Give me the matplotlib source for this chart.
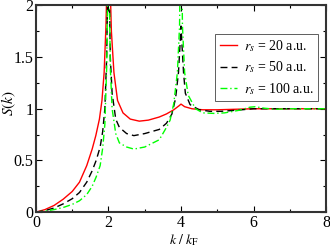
import numpy as np
import matplotlib
matplotlib.use("Agg")
import matplotlib.pyplot as plt
from matplotlib.ticker import MultipleLocator, FixedLocator, FixedFormatter

plt.rcParams['font.family'] = ['Liberation Serif', 'DejaVu Serif']
plt.rcParams['mathtext.fontset'] = 'stix'

# rs = 20 a.u.
k_red = [0, 0.25, 0.5, 0.75, 1.0, 1.2, 1.4, 1.55, 1.65, 1.75, 1.82, 1.88, 1.93, 1.97, 2.0,
         2.03, 2.08, 2.15, 2.25, 2.4, 2.6, 2.85, 3.1, 3.4, 3.6, 3.8, 3.95, 4.0,
         4.1, 4.3, 4.6, 5.0, 5.5, 6.0, 8.0]
s_red = [0, 0.025, 0.065, 0.125, 0.2, 0.29, 0.45, 0.61, 0.74, 0.9, 1.08, 1.35, 1.8, 2.4, 3.0,
         2.4, 1.75, 1.35, 1.08, 0.96, 0.9, 0.88, 0.89, 0.92, 0.95, 0.99, 1.03, 1.045,
         1.02, 1.0, 0.99, 0.99, 0.995, 1.0, 1.0]

# rs = 50 a.u.
k_blk = [0, 0.25, 0.5, 0.75, 1.0, 1.2, 1.4, 1.55, 1.66, 1.77, 1.84, 1.9, 1.95, 1.98, 2.0,
         2.02, 2.05, 2.1, 2.2, 2.3, 2.5, 2.7, 3.0, 3.4, 3.6, 3.75, 3.85, 3.93, 3.97,
         4.0, 4.03, 4.07, 4.12, 4.25, 4.5, 4.8, 5.1, 5.5, 6.0, 6.5, 8.0]
s_blk = [0, 0.015, 0.04, 0.08, 0.13, 0.19, 0.29, 0.4, 0.5, 0.63, 0.78, 1.0, 1.5, 2.2, 3.0,
         2.2, 1.5, 1.15, 0.9, 0.82, 0.76, 0.74, 0.76, 0.8, 0.86, 0.95, 1.1, 1.35, 1.6,
         1.8, 1.6, 1.35, 1.15, 1.04, 0.99, 0.975, 0.975, 0.985, 1.0, 1.0, 1.0]

# rs = 100 a.u.
k_grn = [0, 0.25, 0.5, 0.75, 1.0, 1.2, 1.4, 1.55, 1.66, 1.77, 1.84, 1.9, 1.95, 1.98, 2.0,
         2.02, 2.05, 2.1, 2.2, 2.3, 2.5, 2.7, 3.0, 3.4, 3.6, 3.7, 3.8, 3.9, 3.96,
         4.0, 4.04, 4.1, 4.2, 4.4, 4.6, 4.9, 5.2, 5.6, 5.9, 6.05, 6.3, 6.6, 7.0, 8.0]
s_grn = [0, 0.01, 0.025, 0.045, 0.075, 0.11, 0.17, 0.25, 0.34, 0.45, 0.62, 0.85, 1.4, 2.2, 3.0,
         2.2, 1.4, 1.0, 0.76, 0.67, 0.63, 0.61, 0.63, 0.70, 0.82, 0.89, 1.05, 1.35, 1.8,
         3.0, 1.8, 1.35, 1.13, 1.0, 0.96, 0.955, 0.96, 0.985, 1.015, 1.02, 1.005, 0.995, 1.0, 1.0]

labels = [r'$r_s$ = 20 a.u.', r'$r_s$ = 50 a.u.', r'$r_s$ = 100 a.u.']
xticks = [0, 2, 4, 6, 8]
yticks = [0, 0.5, 1, 1.5, 2]
yticklabels = ['0', '0.5', '1', '1.5', '2']

fig = plt.figure(figsize=(3.3, 2.49), dpi=100)
ax = fig.add_axes([0.109, 0.148, 0.879, 0.8305])

ax.plot(k_red, s_red, color='red', lw=1.0, ls='-', label=labels[0])
ax.plot(k_blk, s_blk, color='black', lw=1.0, ls=(0, (5, 3)), label=labels[1])
ax.plot(k_grn, s_grn, color='#00ff00', lw=1.0, ls=(0, (5, 2, 1, 2)), label=labels[2])

ax.set_xlim(0, 8)
ax.set_ylim(0, 2)
ax.xaxis.set_major_locator(FixedLocator(xticks))
ax.xaxis.set_minor_locator(MultipleLocator(1))
ax.yaxis.set_major_locator(FixedLocator(yticks))
ax.yaxis.set_major_formatter(FixedFormatter(yticklabels))
ax.yaxis.set_minor_locator(MultipleLocator(0.25))
ax.tick_params(which='both', direction='in', top=True, right=True, labelsize=11.5)
ax.tick_params(axis='x', pad=2)
ax.tick_params(axis='y', pad=2)
ax.tick_params(which='major', length=4, width=0.8)
ax.tick_params(which='minor', length=2, width=0.8)
for sp in ax.spines.values():
    sp.set_linewidth(1.5)
    sp.set_color('#333333')

ax.set_xlabel(r'$k\ /\ k_{\mathrm{F}}$', fontsize=10)
ax.xaxis.set_label_coords(0.512, -0.095)
ax.set_ylabel(r'$S(k)$', fontsize=11)
ax.yaxis.set_label_coords(-0.062, 0.526)

leg = ax.legend(loc='upper right', bbox_to_anchor=(0.972, 0.862), fontsize=10,
                fancybox=False, edgecolor='#444444', framealpha=1,
                handlelength=1.25, handletextpad=0.5, borderpad=0.3,
                labelspacing=0.4, borderaxespad=0)
leg.get_frame().set_linewidth(0.6)

fig.savefig('out.png', dpi=100)
